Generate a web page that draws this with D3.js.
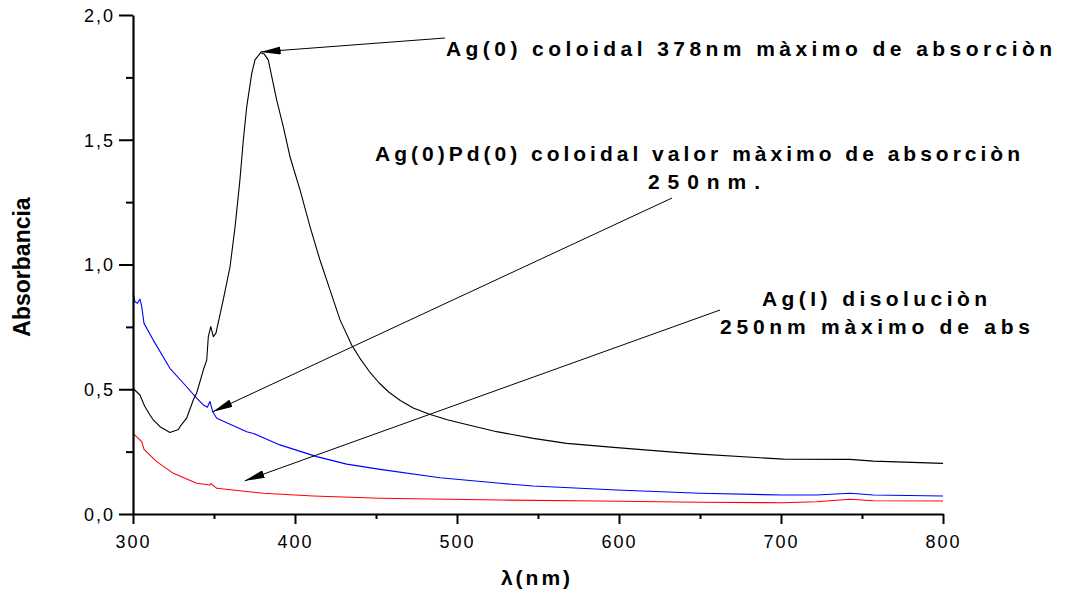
<!DOCTYPE html>
<html>
<head>
<meta charset="utf-8">
<script src="https://cdn.jsdelivr.net/npm/d3@7"></script>
<style>
  html, body { margin: 0; padding: 0; background: #fff; }
  svg { display: block; }
  text { font-family: "Liberation Sans", Arial, sans-serif; }
</style>
</head>
<body>
<svg id="chart" width="1073" height="595"></svg>
<script>
// ---- Data ----
const agColWl  = [300, 304.3, 306.4, 307.4, 310.5, 312.5, 316.7, 322.8, 328, 329, 333.1, 337.2, 339.3, 343.4, 345.5, 346.5, 348, 349.6, 351.2, 355.7, 359.9, 363, 366, 368.1, 370.2, 373.3, 375.3, 378.8, 380.9, 383.5, 388.7, 392.8, 396.9, 403.1, 409.3, 415.4, 421.6, 427.8, 435, 440, 446, 452, 458, 465, 473, 483, 494, 504, 524.5, 547.1, 567.7, 598.6, 629.5, 650, 701.4, 742.6, 757, 800];
const agColAbs = [0.504, 0.477, 0.444, 0.430, 0.397, 0.377, 0.350, 0.327, 0.339, 0.350, 0.384, 0.457, 0.485, 0.577, 0.617, 0.711, 0.751, 0.711, 0.725, 0.858, 0.991, 1.151, 1.339, 1.499, 1.632, 1.766, 1.820, 1.849, 1.844, 1.820, 1.659, 1.552, 1.432, 1.299, 1.151, 1.018, 0.898, 0.778, 0.677, 0.625, 0.570, 0.525, 0.488, 0.455, 0.425, 0.400, 0.378, 0.362, 0.330, 0.303, 0.283, 0.266, 0.250, 0.240, 0.220, 0.219, 0.212, 0.203];

const agPdWl  = [300, 301.2, 302.7, 304.3, 305.4, 306.8, 312.5, 322.8, 333.1, 339.3, 343.4, 345.9, 347.5, 349.2, 351.7, 370.2, 374.3, 390.7, 413.4, 431.9, 452.5, 489.5, 526.6, 547, 598.6, 650, 701, 722, 742.6, 757, 800];
const agPdAbs = [0.886, 0.851, 0.845, 0.861, 0.831, 0.764, 0.697, 0.584, 0.510, 0.464, 0.437, 0.428, 0.451, 0.410, 0.384, 0.330, 0.323, 0.277, 0.230, 0.200, 0.179, 0.145, 0.123, 0.112, 0.096, 0.083, 0.076, 0.076, 0.083, 0.076, 0.072];

const agIWl  = [300, 305.4, 306.8, 314.6, 324.9, 339.3, 347.5, 348.1, 351.7, 380.4, 411.3, 452.5, 526.6, 587, 650, 701, 722, 742.6, 757, 800];
const agIAbs = [0.323, 0.290, 0.259, 0.210, 0.163, 0.123, 0.116, 0.122, 0.103, 0.083, 0.072, 0.063, 0.056, 0.052, 0.047, 0.045, 0.049, 0.059, 0.053, 0.052];

const xMajorTicks = [300, 400, 500, 600, 700, 800];
const xMinorTicks = [350, 450, 550, 650, 750];
const yMajorTicks = [0, 0.5, 1.0, 1.5, 2.0];
const yMinorTicks = [0.25, 0.75, 1.25, 1.75];
const yTickLabels = ["0,0", "0,5", "1,0", "1,5", "2,0"];

const xTitle = "λ(nm)";
const yTitle = "Absorbancia";

// ---- Layout ----
const svg = d3.select("#chart");
const mLeft = 133, mRight = 943, mTop = 15, mBottom = 514;

const x = d3.scaleLinear().domain([300, 800]).range([mLeft, mRight]);
const y = d3.scaleLinear().domain([0, 2]).range([mBottom, mTop]);

// ---- Curves ----
function drawSeries(wl, abs, color) {
  const pts = wl.map((w, i) => [w, abs[i]]);
  svg.append("path")
    .datum(pts)
    .attr("fill", "none")
    .attr("stroke", color)
    .attr("stroke-width", 1.1)
    .attr("stroke-linejoin", "round")
    .attr("d", d3.line().x(d => x(d[0])).y(d => y(d[1])));
}
drawSeries(agIWl, agIAbs, "#ff0000");
drawSeries(agPdWl, agPdAbs, "#0000ff");
drawSeries(agColWl, agColAbs, "#000000");

// ---- Axes ----
const yAxis = svg.append("g").attr("transform", `translate(${mLeft},0)`)
  .call(d3.axisLeft(y).tickValues(yMajorTicks).tickSize(14).tickSizeOuter(0)
        .tickFormat((d, i) => yTickLabels[i]));
const yMinor = svg.append("g").attr("transform", `translate(${mLeft},0)`)
  .call(d3.axisLeft(y).tickValues(yMinorTicks).tickSize(7).tickSizeOuter(0).tickFormat(""));
const xAxis = svg.append("g").attr("transform", `translate(0,${mBottom})`)
  .call(d3.axisBottom(x).tickValues(xMajorTicks).tickSize(10).tickSizeOuter(0));
const xMinor = svg.append("g").attr("transform", `translate(0,${mBottom})`)
  .call(d3.axisBottom(x).tickValues(xMinorTicks).tickSize(5).tickSizeOuter(0).tickFormat(""));

[yAxis, yMinor, xAxis, xMinor].forEach(g => {
  g.selectAll(".domain").attr("stroke", "#000").attr("stroke-width", 2.2);
  g.selectAll(".tick line").attr("stroke", "#000").attr("stroke-width", 2);
});
yMinor.select(".domain").remove();
xMinor.select(".domain").remove();

yAxis.selectAll(".tick text")
  .attr("font-size", 18).attr("letter-spacing", "2px")
  .attr("x", -18).attr("dy", "0.35em").attr("fill", "#000");
xAxis.selectAll(".tick text")
  .attr("font-size", 18).attr("letter-spacing", "2px")
  .attr("y", 21).attr("dy", "0.71em").attr("fill", "#000");

svg.append("text")
  .attr("x", 537).attr("y", 585)
  .attr("text-anchor", "middle")
  .attr("font-size", 21).attr("font-weight", "bold").attr("letter-spacing", "3px")
  .text(xTitle);

svg.append("text")
  .attr("transform", "translate(30,267) rotate(-90)")
  .attr("text-anchor", "middle")
  .attr("font-size", 23).attr("font-weight", "bold")
  .text(yTitle);

// ---- Annotations ----
svg.append("defs").append("marker")
  .attr("id", "arrow")
  .attr("viewBox", "0 0 20 8")
  .attr("refX", 20).attr("refY", 4)
  .attr("markerWidth", 20).attr("markerHeight", 8)
  .attr("markerUnits", "userSpaceOnUse")
  .attr("orient", "auto")
  .append("path").attr("d", "M0,0 L20,4 L0,8 Z").attr("fill", "#000");

function arrow(x1, y1, wl, ab) {
  svg.append("line")
    .attr("x1", x1).attr("y1", y1)
    .attr("x2", x(wl)).attr("y2", y(ab))
    .attr("stroke", "#000").attr("stroke-width", 1)
    .attr("marker-end", "url(#arrow)");
}
arrow(445, 38, 378.8, 1.852);
arrow(672, 198, 349.3, 0.41);
arrow(720, 310, 369, 0.133);

function label(txt, xPos, yPos, width) {
  svg.append("text")
    .attr("x", xPos).attr("y", yPos)
    .attr("font-size", 21).attr("font-weight", "bold")
    .attr("textLength", width).attr("lengthAdjust", "spacing")
    .text(txt);
}
label("Ag(0) coloidal 378nm màximo de absorciòn", 446, 56, 606);
label("Ag(0)Pd(0) coloidal valor màximo de absorciòn", 375, 161, 645);
label("250nm.", 648, 189, 112);
label("Ag(I) disoluciòn", 762, 306, 225);
label("250nm màximo de abs", 720, 334, 310);
</script>
</body>
</html>
